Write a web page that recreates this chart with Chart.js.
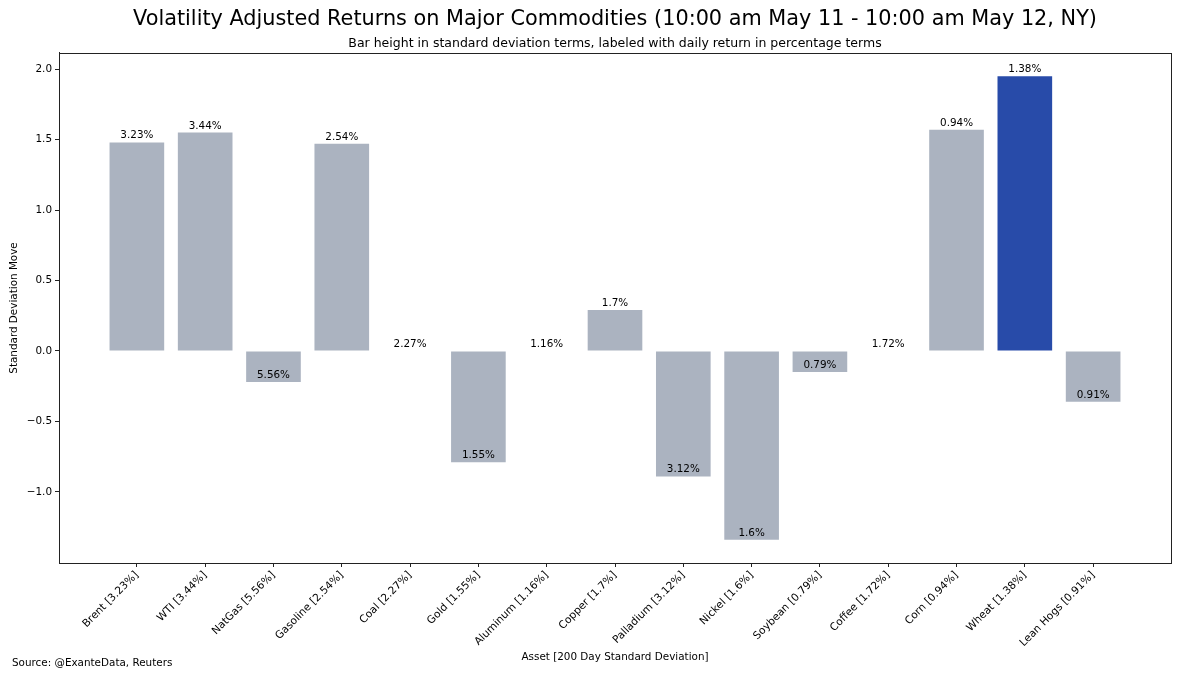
<!DOCTYPE html>
<html>
<head>
<meta charset="utf-8">
<script src="https://cdn.jsdelivr.net/npm/chart.js@4.4.0/dist/chart.umd.min.js"></script>
<style>
html,body{margin:0;padding:0;background:#fff;}
#wrap{width:1200px;height:675px;position:relative;}
</style>
</head>
<body>
<div id="wrap"><canvas id="c" width="1200" height="675"></canvas></div>
<script>
const categories = ["Brent [3.23%]","WTI [3.44%]","NatGas [5.56%]","Gasoline [2.54%]","Coal [2.27%]","Gold [1.55%]","Aluminum [1.16%]","Copper [1.7%]","Palladium [3.12%]","Nickel [1.6%]","Soybean [0.79%]","Coffee [1.72%]","Corn [0.94%]","Wheat [1.38%]","Lean Hogs [0.91%]"];
const sdMoves = [1.48, 1.55, -0.22, 1.47, 0.0, -0.79, 0.0, 0.29, -0.89, -1.34, -0.15, 0.0, 1.57, 1.95, -0.36];
const returnLabels = ["3.23%","3.44%","5.56%","2.54%","2.27%","1.55%","1.16%","1.7%","3.12%","1.6%","0.79%","1.72%","0.94%","1.38%","0.91%"];
const highlightIndex = 13;
const yTicks = [-1.0, -0.5, 0.0, 0.5, 1.0, 1.5, 2.0];

const FONT = "'DejaVu Sans', sans-serif";
const GREY = '#abb3c0';
const BLUE = '#284ba9';

const barLabelPlugin = {
  id: 'barLabels',
  afterDatasetsDraw(chart) {
    const ctx = chart.ctx;
    const meta = chart.getDatasetMeta(0);
    ctx.save();
    ctx.font = "10.4px " + FONT;
    ctx.fillStyle = '#000';
    ctx.textAlign = 'center';
    ctx.textBaseline = 'alphabetic';
    meta.data.forEach((el, i) => {
      ctx.fillText(returnLabels[i], el.x, el.y - 4);
    });
    ctx.restore();
  }
};

const framePlugin = {
  id: 'frame',
  afterDraw(chart) {
    const a = chart.chartArea;
    const ctx = chart.ctx;
    ctx.save();
    ctx.strokeStyle = '#222';
    ctx.lineWidth = 1;
    ctx.strokeRect(Math.round(a.left) + 0.5, Math.round(a.top) + 0.5, Math.round(a.right - a.left), Math.round(a.bottom - a.top));
    ctx.font = "10.4px " + FONT;
    ctx.fillStyle = '#000';
    ctx.textAlign = 'left';
    ctx.textBaseline = 'middle';
    ctx.fillText('Source: @ExanteData, Reuters', 12, 663);
    ctx.restore();
  }
};

new Chart(document.getElementById('c'), {
  type: 'bar',
  data: {
    datasets: [{
      data: sdMoves.map((v, i) => ({x: i, y: v})),
      backgroundColor: sdMoves.map((v, i) => i === highlightIndex ? BLUE : GREY),
      borderWidth: 0,
      barPercentage: 0.8,
      categoryPercentage: 1.0
    }]
  },
  options: {
    responsive: false,
    devicePixelRatio: 1,
    animation: false,
    layout: {padding: {left: 0, right: 29, top: 0, bottom: 0}},
    plugins: {
      legend: {display: false},
      tooltip: {enabled: false},
      title: {
        display: true,
        fullSize: false,
        text: 'Volatility Adjusted Returns on Major Commodities (10:00 am May 11 - 10:00 am May 12, NY)',
        color: '#000',
        font: {family: FONT, size: 20.8, weight: 'normal'},
        padding: {top: 7.2, bottom: 2}
      },
      subtitle: {
        display: true,
        fullSize: false,
        text: 'Bar height in standard deviation terms, labeled with daily return in percentage terms',
        color: '#000',
        font: {family: FONT, size: 12.5, weight: 'normal'},
        padding: {top: 2, bottom: 1.8}
      }
    },
    scales: {
      x: {
        type: 'linear',
        min: -1.14,
        max: 15.14,
        offset: false,
        afterBuildTicks(scale) { scale.ticks = categories.map((c, i) => ({value: i})); },
        afterFit(scale) { scale.height = 112; },
        ticks: {
          autoSkip: false,
          minRotation: 45,
          maxRotation: 45,
          padding: 2,
          color: '#000',
          font: {family: FONT, size: 10.6},
          callback: (v) => categories[v]
        },
        grid: {display: true, offset: false, drawOnChartArea: false, drawTicks: true, tickLength: 4, color: '#222'},
        border: {display: true, color: '#222'},
        title: {
          display: true,
          text: 'Asset [200 Day Standard Deviation]',
          color: '#000',
          font: {family: FONT, size: 10.4},
          padding: {top: 0, bottom: 11}
        }
      },
      y: {
        min: -1.5045,
        max: 2.1145,
        afterBuildTicks(scale) { scale.ticks = yTicks.map(v => ({value: v})); },
        afterFit(scale) { scale.width = 59; },
        ticks: {
          padding: 3,
          color: '#000',
          font: {family: FONT, size: 10.4},
          callback: (v) => (v < 0 ? '\u2212' : '') + Math.abs(v).toFixed(1)
        },
        grid: {display: true, offset: false, drawOnChartArea: false, drawTicks: true, tickLength: 4, color: '#222'},
        border: {display: true, color: '#222'},
        title: {
          display: true,
          text: 'Standard Deviation Move',
          color: '#000',
          font: {family: FONT, size: 10.4},
          padding: {top: 8, bottom: 0}
        }
      }
    }
  },
  plugins: [barLabelPlugin, framePlugin]
});
</script>
</body>
</html>
